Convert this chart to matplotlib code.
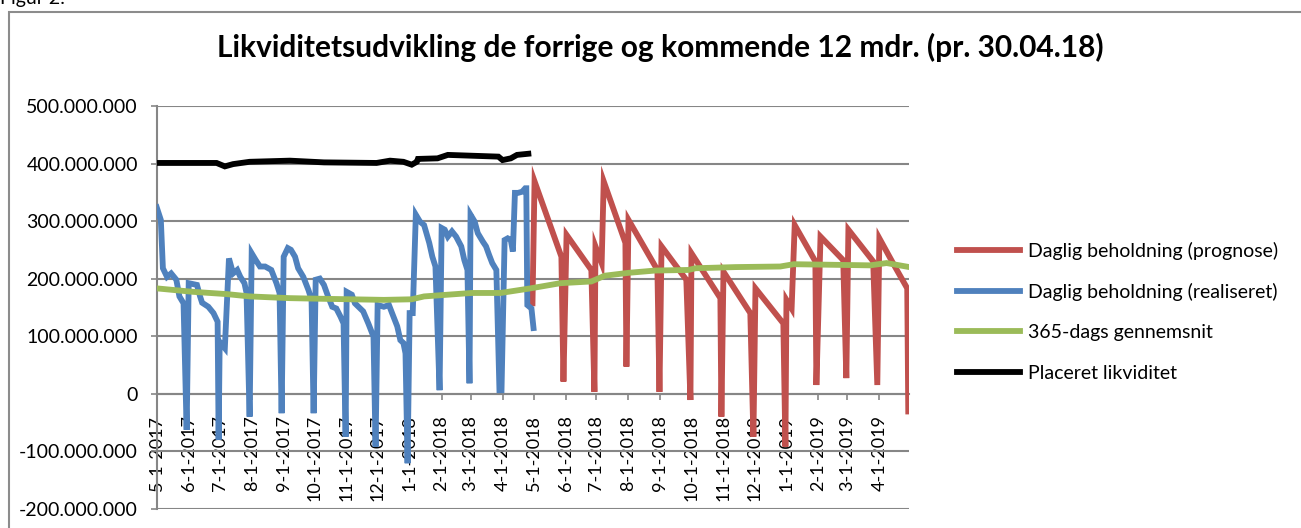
import matplotlib
matplotlib.use("Agg")
import matplotlib.pyplot as plt
import matplotlib.dates as mdates
from matplotlib.patches import Rectangle
from matplotlib.ticker import FuncFormatter, MultipleLocator
import pandas as pd

plt.rcParams['font.family'] = ['Lato', 'DejaVu Sans']

# Daglig beholdning (realiseret), mio. kr.
real_dates = ['2017-05-01', '2017-05-05', '2017-05-07', '2017-05-11', '2017-05-15', '2017-05-20',
              '2017-05-23', '2017-05-27', '2017-05-30', '2017-06-01', '2017-06-09', '2017-06-12',
              '2017-06-14', '2017-06-20', '2017-06-25', '2017-06-29', '2017-06-30', '2017-07-01',
              '2017-07-06', '2017-07-10', '2017-07-14', '2017-07-18', '2017-07-21', '2017-07-25',
              '2017-07-27', '2017-07-30', '2017-08-01', '2017-08-05', '2017-08-09', '2017-08-14',
              '2017-08-20', '2017-08-25', '2017-08-28', '2017-08-30', '2017-09-01', '2017-09-05',
              '2017-09-08', '2017-09-12', '2017-09-15', '2017-09-20', '2017-09-25', '2017-09-28',
              '2017-09-30', '2017-10-02', '2017-10-06', '2017-10-10', '2017-10-14', '2017-10-18',
              '2017-10-22', '2017-10-26', '2017-10-29', '2017-10-31', '2017-11-01', '2017-11-06',
              '2017-11-09', '2017-11-17', '2017-11-22', '2017-11-27', '2017-11-29', '2017-12-01',
              '2017-12-07', '2017-12-12', '2017-12-15', '2017-12-20', '2017-12-23', '2017-12-26',
              '2017-12-28', '2017-12-30', '2018-01-01', '2018-01-04', '2018-01-07', '2018-01-11',
              '2018-01-15', '2018-01-20', '2018-01-23', '2018-01-26', '2018-01-30', '2018-02-01',
              '2018-02-04', '2018-02-07', '2018-02-11', '2018-02-15', '2018-02-20', '2018-02-23',
              '2018-02-26', '2018-02-28', '2018-03-01', '2018-03-05', '2018-03-08', '2018-03-13',
              '2018-03-16', '2018-03-19', '2018-03-22', '2018-03-26', '2018-03-29', '2018-03-31',
              '2018-04-03', '2018-04-06', '2018-04-09', '2018-04-11', '2018-04-13', '2018-04-16',
              '2018-04-20', '2018-04-23', '2018-04-24', '2018-04-25', '2018-04-29', '2018-05-01']
real_vals = [324, 302, 218, 203, 209, 198,
             169, 157, -63, 192, 189, 169,
             158, 151, 140, 125, -80, 90,
             79, 235, 209, 215, 203, 192,
             175, -40, 244, 232, 221, 221,
             215, 192, 175, -34, 238, 253,
             250, 238, 218, 203, 180, 163,
             -34, 198, 200, 189, 169, 151,
             148, 134, 122, -75, 177, 172,
             157, 143, 122, 99, -92, 154,
             151, 154, 140, 117, 93, 88,
             70, -121, 140, 140, 311, 299,
             293, 262, 238, 221, 6, 288,
             285, 273, 282, 273, 256, 232,
             215, 18, 311, 299, 279, 264,
             256, 241, 227, 215, 6, 6,
             267, 270, 267, 247, 349, 349,
             351, 357, 357, 154, 148, 114]

# Daglig beholdning (prognose), mio. kr.
prog_dates = ['2018-04-30', '2018-05-02', '2018-05-28', '2018-05-30', '2018-06-02', '2018-06-26',
              '2018-06-29', '2018-06-30', '2018-07-06', '2018-07-08', '2018-07-29', '2018-07-30',
              '2018-08-01', '2018-08-29', '2018-08-31', '2018-09-02', '2018-09-26', '2018-09-30',
              '2018-10-01', '2018-10-29', '2018-10-30', '2018-11-01', '2018-11-27', '2018-11-30',
              '2018-12-02', '2018-12-29', '2018-12-31', '2019-01-01', '2019-01-06', '2019-01-09',
              '2019-01-29', '2019-01-30', '2019-02-03', '2019-02-25', '2019-02-28', '2019-03-02',
              '2019-03-26', '2019-03-30', '2019-04-01', '2019-04-16', '2019-04-28', '2019-04-29']
prog_vals = [157, 369, 238, 21, 276, 215,
             3, 256, 227, 369, 262, 47,
             302, 215, 3, 256, 198, -11,
             244, 166, -40, 212, 140, -75,
             183, 122, -92, 163, 148, 293,
             230, 15, 273, 232, 27, 285,
             230, 15, 270, 221, 183, -31]

# 365-dags gennemsnit, mio. kr.
avg_dates = ['2017-05-01', '2017-06-05', '2017-07-08', '2017-07-30', '2017-09-07', '2017-10-05',
             '2017-12-07', '2018-01-03', '2018-01-15', '2018-03-02', '2018-03-30', '2018-04-28',
             '2018-05-27', '2018-06-26', '2018-07-09', '2018-08-01', '2018-08-27', '2018-09-28',
             '2018-10-05', '2018-11-13', '2018-12-26', '2019-01-08', '2019-03-23', '2019-04-08',
             '2019-04-30']
avg_vals = [183, 177, 173, 169, 166, 165,
            163, 164, 169, 175, 175, 183,
            192, 195, 205, 210, 214, 215,
            218, 220, 221, 225, 223, 227,
            220]

# Placeret likviditet, mio. kr.
plac_dates = ['2017-05-01', '2017-06-28', '2017-07-06', '2017-07-14', '2017-07-30', '2017-09-07',
              '2017-10-10', '2017-11-30', '2017-12-13', '2017-12-26', '2018-01-03', '2018-01-08',
              '2018-01-09', '2018-01-28', '2018-02-07', '2018-03-28', '2018-04-01', '2018-04-09',
              '2018-04-15', '2018-04-26']
plac_vals = [401, 401, 395, 399, 403, 405,
             402, 401, 405, 403, 398, 403,
             408, 409, 415, 412, 406, 409,
             415, 417]

series = [
    ('Daglig beholdning (prognose)', prog_dates, prog_vals, '#C0504D'),
    ('Daglig beholdning (realiseret)', real_dates, real_vals, '#4F81BD'),
    ('365-dags gennemsnit', avg_dates, avg_vals, '#9BBB59'),
    ('Placeret likviditet', plac_dates, plac_vals, '#000000'),
]

grid_col = '#868686'

fig = plt.figure(figsize=(13.01, 5.28), dpi=100)
ax = fig.add_axes([156.7 / 1301, 1 - 508.7 / 528, 752.6 / 1301, 402.7 / 528])

for name, d, v, col in series:
    ax.plot(pd.to_datetime(d), [x * 1e6 for x in v], color=col, lw=4.2,
            solid_joinstyle='miter', label=name, zorder=3)

ax.set_xlim(pd.Timestamp('2017-05-01'), pd.Timestamp('2019-04-30'))
ax.set_ylim(-200e6, 500e6)
ax.yaxis.set_major_locator(MultipleLocator(100e6))
ax.yaxis.set_major_formatter(FuncFormatter(lambda v, p: f"{v:,.0f}".replace(',', '.')))
ax.xaxis.set_major_locator(mdates.MonthLocator())
ax.xaxis.set_major_formatter(FuncFormatter(
    lambda v, p: f"{mdates.num2date(v).month}-1-{mdates.num2date(v).year}"))

ax.grid(axis='y', color=grid_col, lw=1.5, zorder=1)
ax.set_axisbelow(True)
for s in ['top', 'right']:
    ax.spines[s].set_visible(False)
ax.spines['bottom'].set_position(('data', 0))
ax.spines['bottom'].set_color(grid_col)
ax.spines['bottom'].set_linewidth(1.5)
ax.spines['left'].set_color(grid_col)
ax.spines['left'].set_linewidth(1.5)
ax.tick_params(axis='x', direction='out', length=4.5, width=1.2, color=grid_col,
               labelsize=13, rotation=90, pad=11)
ax.tick_params(axis='y', direction='out', length=4.5, width=1.2, color=grid_col,
               labelsize=14, pad=9)

ax.set_title('Likviditetsudvikling de forrige og kommende 12 mdr. (pr. 30.04.18)',
             fontsize=21.5, fontweight='bold', x=(660 - 156.7) / 752.6, y=1.0, pad=35)

fig.legend(loc='center left', bbox_to_anchor=(957 / 1301, 1 - 311.5 / 528), frameon=False,
           fontsize=14, handlelength=3.25, handletextpad=0.4, labelspacing=1.2, borderpad=0,
           borderaxespad=0)

fig.add_artist(Rectangle((8.5 / 1301, -0.1), 1.2, 1.1 - 12 / 528, transform=fig.transFigure,
                         fill=False, edgecolor='#8c8c8c', lw=1.5))
fig.text(0.0, 1 - 4 / 528, 'Figur 2:', fontsize=14, va='baseline', ha='left')

fig.savefig('out.png', dpi=100)
